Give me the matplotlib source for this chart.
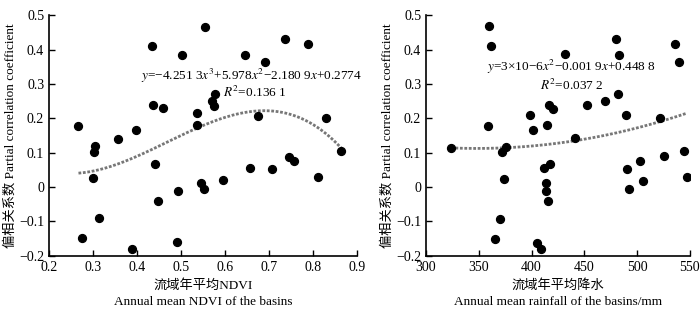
import numpy as np
import matplotlib
matplotlib.use("Agg")
import matplotlib.pyplot as plt

plt.rcParams['font.family'] = ['Liberation Serif', 'Noto Sans CJK SC']
plt.rcParams['mathtext.fontset'] = 'stix'

# NDVI panel
ndvi = [0.267, 0.356, 0.397, 0.435, 0.502, 0.555, 0.437, 0.458, 0.536, 0.536,
        0.645, 0.692, 0.736, 0.789, 0.577, 0.570, 0.576, 0.676, 0.830, 0.305,
        0.302, 0.441, 0.301, 0.545, 0.552, 0.494, 0.448, 0.314, 0.274, 0.389,
        0.490, 0.596, 0.657, 0.706, 0.745, 0.756, 0.812, 0.864]
pc_ndvi = [0.179, 0.140, 0.165, 0.410, 0.385, 0.467, 0.240, 0.230, 0.215, 0.181,
           0.383, 0.364, 0.430, 0.417, 0.272, 0.250, 0.236, 0.208, 0.202, 0.118,
           0.101, 0.068, 0.026, 0.012, -0.007, -0.013, -0.042, -0.090, -0.149, -0.180,
           -0.161, 0.019, 0.056, 0.053, 0.087, 0.075, 0.029, 0.104]
coef_ndvi = [-4.2513, 5.978, -2.1809, 0.2774]

# rainfall panel
rain = [360, 361.3, 359, 398.5, 401, 415, 416.8, 420.6, 431.6, 480,
        482.5, 536, 539.3, 482, 469.5, 452.7, 489.4, 521.6, 441, 323.7,
        375.5, 371.7, 417.7, 411.5, 413.4, 414, 415.8, 373.6, 370.4, 365.6,
        405.4, 408.6, 490, 492.6, 502.7, 505.8, 525.4, 544, 546.9]
pc_rain = [0.468, 0.410, 0.179, 0.211, 0.167, 0.181, 0.238, 0.228, 0.388, 0.432,
           0.385, 0.417, 0.364, 0.272, 0.250, 0.238, 0.210, 0.202, 0.142, 0.113,
           0.116, 0.101, 0.068, 0.055, 0.013, -0.013, -0.042, 0.024, -0.092, -0.150,
           -0.162, -0.181, 0.053, -0.007, 0.075, 0.017, 0.089, 0.104, 0.029]

ylab = '偏相关系数 Partial correlation coefficient'

fig = plt.figure(figsize=(7, 3.1), dpi=100)
ax1 = fig.add_axes([0.070, 0.175, 0.44, 0.776])
ax2 = fig.add_axes([0.6086, 0.175, 0.377, 0.776])

for ax in (ax1, ax2):
    ax.spines['top'].set_visible(False)
    ax.spines['right'].set_visible(False)
    ax.spines['left'].set_linewidth(1.2)
    ax.spines['bottom'].set_linewidth(1.2)
    ax.tick_params(direction='in', labelsize=10, length=4, width=1)
    ax.set_ylim(-0.2, 0.5)
    ax.set_yticks([-0.2, -0.1, 0, 0.1, 0.2, 0.3, 0.4, 0.5])
    ax.set_yticklabels(['\u22120.2', '\u22120.1', '0', '0.1', '0.2', '0.3', '0.4', '0.5'])
    ax.set_ylabel(ylab, fontsize=9.5, labelpad=2)

# left
ax1.scatter(ndvi, pc_ndvi, s=32, color='black', zorder=3)
xs = np.linspace(min(ndvi), max(ndvi), 200)
ax1.plot(xs, np.polyval(coef_ndvi, xs), color='#777777', lw=2, ls=(0, (1, 0.6)))
ax1.set_xlim(0.2, 0.9)
ax1.set_xticks([0.2, 0.3, 0.4, 0.5, 0.6, 0.7, 0.8, 0.9])
ax1.set_xlabel('流域年平均NDVI\nAnnual mean NDVI of the basins', fontsize=9.5, labelpad=4, linespacing=1.4)
ax1.text(0.661, 0.322, r'$y$=−4.251 3$x^3$+5.978$x^2$−2.180 9$x$+0.2774',
         ha='center', va='center', fontsize=9.5)
ax1.text(0.667, 0.276, r'$R^2$=0.136 1', ha='center', va='center', fontsize=9.5)

# right
ax2.scatter(rain, pc_rain, s=32, color='black', zorder=3)
coef_rain = np.polyfit(rain, pc_rain, 2)
xr = np.linspace(min(rain), max(rain), 200)
ax2.plot(xr, np.polyval(coef_rain, xr), color='#777777', lw=2, ls=(0, (1, 0.6)))
ax2.set_xlim(300, 550)
ax2.set_xticks([300, 350, 400, 450, 500, 550])
ax2.set_xlabel('流域年平均降水\nAnnual mean rainfall of the basins/mm', fontsize=9.5, labelpad=4, linespacing=1.4)
ax2.text(437.3, 0.348, r'$y$=3×10−6$x^2$−0.001 9$x$+0.448 8',
         ha='center', va='center', fontsize=9.5)
ax2.text(438, 0.297, r'$R^2$=0.037 2', ha='center', va='center', fontsize=9.5)

fig.savefig('out.png', dpi=100)
